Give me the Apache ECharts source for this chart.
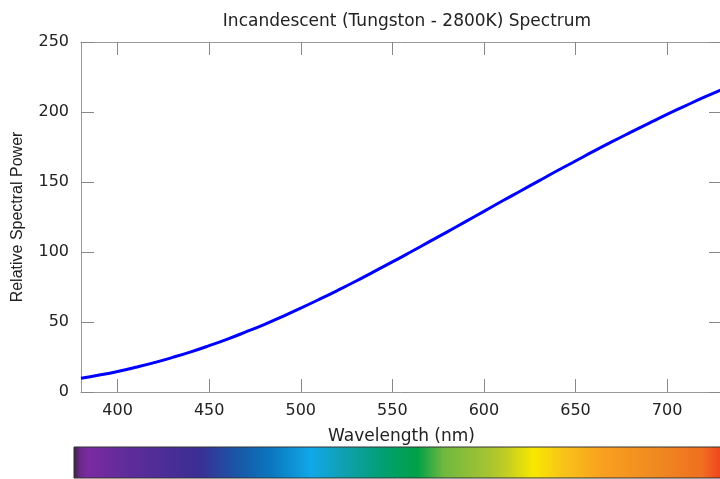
<!DOCTYPE html>
<html><head><meta charset="utf-8">
<script src="https://cdn.jsdelivr.net/npm/echarts@6/dist/echarts.min.js"></script>
<style>html,body{margin:0;padding:0;background:#fff}#c{width:720px;height:479px}</style>
</head><body><div id="c"></div>
<script>
const wavelengths = [380,390,400,410,420,430,440,450,460,470,480,490,500,510,520,530,540,550,560,570,580,590,600,610,620,630,640,650,660,670,680,690,700,710,720,730];
const power = [9.8,12.1,14.7,17.7,21.0,24.7,28.7,33.1,37.8,42.9,48.2,53.9,59.9,66.1,72.5,79.1,86.0,92.9,100.0,107.2,114.4,121.7,129.0,136.4,143.6,150.8,158.0,165.0,172.0,178.8,185.4,191.9,198.3,204.4,210.4,216.1];
const xTicks = [400,450,500,550,600,650,700];
const yTicks = [0,50,100,150,200,250];
const spectrumStops = [
  [0.00,'#3a2040'],[0.01,'#6a2a88'],[0.022,'#7a2aa0'],[0.085,'#5e2c9a'],[0.19,'#3a2e94'],[0.25,'#1858a8'],[0.30,'#0a78c0'],[0.36,'#10a8e8'],[0.41,'#10a0b0'],[0.47,'#00a070'],[0.52,'#00a048'],[0.56,'#70b840'],[0.63,'#a8c430'],[0.66,'#c8d020'],[0.695,'#f8e800'],[0.74,'#f8c418'],[0.80,'#f8a020'],[0.88,'#f08a20'],[0.95,'#f07020'],[0.975,'#f04a20'],[1.00,'#e83020']
];
const chart = echarts.init(document.getElementById('c'));
const font = '"DejaVu Sans", Verdana, sans-serif';
const tickStyle = {show:true, inside:true, length:13, lineStyle:{color:'#888', width:1}};
const lineStyle = {onZero:false, lineStyle:{color:'#999', width:1}};
chart.setOption({
  animation:false,
  title:{text:'Incandescent (Tungston - 2800K) Spectrum', left:402, textAlign:'center', top:8,
    textStyle:{fontFamily:font, fontSize:17, fontWeight:'normal', color:'#222'}},
  grid:{left:81, top:42, width:641, height:350, containLabel:false, outerBoundsMode:'none'},
  xAxis:[
    {type:'value', min:380, max:730, position:'bottom',
     axisLine:{show:true, ...lineStyle}, splitLine:{show:false},
     axisLabel:{fontFamily:font, fontSize:16, color:'#222', margin:11, customValues: xTicks},
     axisTick:{...tickStyle, customValues: xTicks},
     name:'Wavelength (nm)', nameLocation:'middle', nameGap:36,
     nameTextStyle:{fontFamily:font, fontSize:17, color:'#222'}},
    {type:'value', min:380, max:730, position:'top',
     axisLine:{show:true, ...lineStyle}, axisLabel:{show:false}, splitLine:{show:false},
     axisTick:{...tickStyle, customValues: xTicks}}
  ],
  yAxis:[
    {type:'value', min:0, max:250, interval:50, position:'left',
     axisLine:{show:true, ...lineStyle}, axisTick:tickStyle, splitLine:{show:false},
     axisLabel:{fontFamily:font, fontSize:16, color:'#222', margin:12},
     name:'Relative Spectral Power', nameLocation:'middle', nameGap:55,
     nameTextStyle:{fontFamily:'"Liberation Sans", Arial, sans-serif', fontSize:16, color:'#222'}},
    {type:'value', min:0, max:250, interval:50, position:'right',
     axisLine:{show:false, onZero:false}, axisTick:tickStyle, axisLabel:{show:false}, splitLine:{show:false}}
  ],
  series:[{
    type:'line', xAxisIndex:0, yAxisIndex:0, smooth:true, symbol:'none',
    data: wavelengths.map((w,i)=>[w,power[i]]),
    lineStyle:{color:'#0000ff', width:3}
  }],
  graphic:[{
    type:'rect', shape:{x:74, y:447, width:660, height:31},
    style:{fill:new echarts.graphic.LinearGradient(0,0,1,0, spectrumStops.map(s=>({offset:s[0], color:s[1]}))),
      stroke:'#333', lineWidth:1}
  }]
});
</script></body></html>
